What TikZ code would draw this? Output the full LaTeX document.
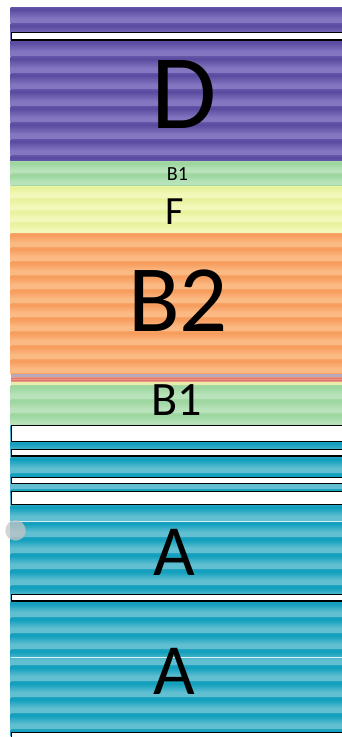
\documentclass[tikz,border=0pt]{standalone}
\usepackage{fontspec}
\setmainfont{Carlito}
% band of soft horizontal stripes: #1 top, #2 bottom, #3 light, #4 dark, #5 period, #6 shading name
\newcommand\stripeband[6]{%
  \pgfdeclareverticalshading{#6}{100bp}{color(0bp)=(#3); color(40bp)=(#3);
    color(68bp)=(#4); color(100bp)=(#3)}%
  \begin{scope}
    \clip (10.5,#1) rectangle (342,#2);
    \fill[#3] (10.5,#1) rectangle (342,#2);
    \pgfmathtruncatemacro\nst{ceil((#2-#1)/#5)}
    \foreach \k in {0,...,\nst}{
      \shade[shading=#6]
        (10.5,{#1+\k*#5}) rectangle (342,{#1+(\k+1)*#5});
    }
  \end{scope}}
\definecolor{purL}{RGB}{132,118,192}
\definecolor{purD}{RGB}{90,74,160}
\definecolor{grnL}{RGB}{184,227,186}
\definecolor{grnD}{RGB}{156,213,158}
\definecolor{yelL}{RGB}{242,248,186}
\definecolor{yelD}{RGB}{232,242,156}
\definecolor{orgL}{RGB}{251,186,132}
\definecolor{orgD}{RGB}{246,156,92}
\definecolor{tealL}{RGB}{98,191,210}
\definecolor{tealD}{RGB}{14,158,188}
\definecolor{mauve}{RGB}{184,168,186}
\definecolor{pinkband}{RGB}{236,150,132}
\definecolor{redline}{RGB}{226,118,110}
\definecolor{paleyel}{RGB}{232,236,168}
\tikzset{
  whitebar/.style={draw=black, fill=white, line width=1.3pt},
  lbl/.style={inner sep=0pt, text=black},
}
\begin{document}
\begin{tikzpicture}[x=1pt,y=-1pt]
  \useasboundingbox (0,0) rectangle (342,737);
  \fill[white] (0,0) rectangle (342,737);
  \begin{scope}
    \clip (0,0) rectangle (342,737);
    % layered bands, top to bottom
    \stripeband{7}{161.5}{purL}{purD}{16.5}{shpur}
    \stripeband{161.5}{186}{grnL}{grnD}{12}{shgrnA}
    \stripeband{186}{233}{yelL}{yelD}{12}{shyel}
    \stripeband{233}{374}{orgL}{orgD}{14}{shorg}
    \fill[mauve] (10.5,374) rectangle (342,377);
    \fill[pinkband] (10.5,377) rectangle (342,382);
    \draw[redline, line width=0.8pt] (10.5,378.2) -- (342,378.2);
    \draw[redline, line width=0.8pt] (10.5,380.8) -- (342,380.8);
    \fill[paleyel] (10.5,382) rectangle (342,385);
    \stripeband{385}{425}{grnL}{grnD}{14}{shgrnB}
    \stripeband{425}{737}{tealL}{tealD}{16}{shteal}
    % fine highlight lines in the lower band
    \draw[white, opacity=0.8, line width=0.9pt] (10.5,521) -- (342,521);
    \draw[white, opacity=0.8, line width=0.9pt] (10.5,657) -- (342,657);
    % white separator bars
    \draw[whitebar] (11.2,32.7) rectangle (350,40);
    \draw[whitebar] (11.2,425.7) rectangle (350,441.6);
    \draw[whitebar] (11.2,449.7) rectangle (350,456);
    \draw[whitebar] (11.2,477.4) rectangle (350,483.6);
    \draw[whitebar] (11.2,491.7) rectangle (350,504.6);
    \draw[whitebar] (11.2,594.7) rectangle (350,601);
    \draw[whitebar] (11.2,732.7) rectangle (350,745);
    % labels
    \node[lbl, font=\fontsize{106}{106}\selectfont] (d) at (184,94) {D};
    \node[lbl, font=\fontsize{20}{20}\selectfont] (b1a) at (177.5,174) {B1};
    \node[lbl, font=\fontsize{40}{40}\selectfont] (f) at (175,212) {F};
    \node[lbl, font=\fontsize{95}{95}\selectfont] (b2) at (178,300.5) {B2};
    \node[lbl, font=\fontsize{48}{48}\selectfont] (b1b) at (177,400) {B1};
    \node[lbl, font=\fontsize{72}{72}\selectfont] (a1) at (174,552.5) {A};
    \node[lbl, font=\fontsize{72}{72}\selectfont] (a2) at (174,671) {A};
    % grey dot near the left edge
    \fill[gray!45, opacity=0.75] (15.5,530.5) circle (10.2);
  \end{scope}
\end{tikzpicture}
\end{document}
